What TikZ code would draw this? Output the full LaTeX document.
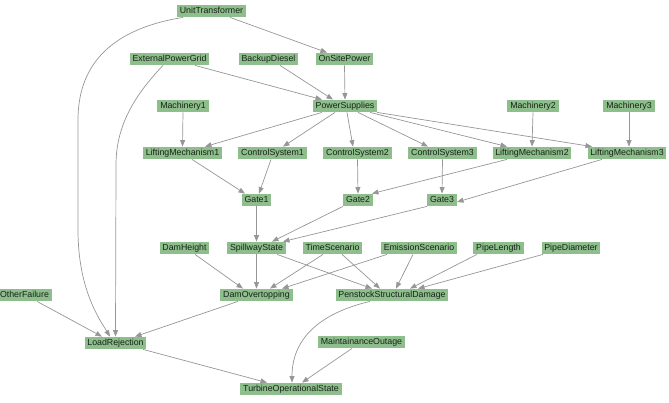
\documentclass[tikz,border=0pt]{standalone}
\usepackage{fontspec}
\setmainfont{Liberation Sans}
\usetikzlibrary{arrows.meta}
\definecolor{boxgreen}{RGB}{141,190,140}
\definecolor{edgegray}{RGB}{150,150,150}
\definecolor{txt}{RGB}{25,35,25}
\tikzset{
  box/.style={fill=boxgreen, text=txt, inner xsep=2.8pt, inner ysep=0pt,
    text height=6.4pt, text depth=1.8pt, minimum height=12.4pt,
    font=\fontsize{8.8}{10}\selectfont},
  edge/.style={draw=edgegray, line width=0.7pt,
    -{Triangle[length=6.5pt,width=5pt,fill=edgegray]}}
}
\begin{document}
\begin{tikzpicture}[x=1pt,y=-1pt]
\useasboundingbox (0,0) rectangle (669,403);
\node[box] (ut)  at (211.5,11) {UnitTransformer};
\node[box] (epg) at (169.5,59) {ExternalPowerGrid};
\node[box] (bd)  at (268.5,59) {BackupDiesel};
\node[box] (osp) at (344.5,59) {OnSitePower};
\node[box] (m1)  at (183,106) {Machinery1};
\node[box] (ps)  at (345,106) {PowerSupplies};
\node[box] (m2)  at (533,106) {Machinery2};
\node[box] (m3)  at (629,106) {Machinery3};
\node[box] (lm1) at (182.5,153) {LiftingMechanism1};
\node[box] (cs1) at (272.5,153) {ControlSystem1};
\node[box] (cs2) at (357.5,153) {ControlSystem2};
\node[box] (cs3) at (442.5,153) {ControlSystem3};
\node[box] (lm2) at (532,153) {LiftingMechanism2};
\node[box] (lm3) at (627,153) {LiftingMechanism3};
\node[box] (g1)  at (256.5,200) {Gate1};
\node[box] (g2)  at (358,200) {Gate2};
\node[box] (g3)  at (442,200) {Gate3};
\node[box] (dh)  at (184.5,248) {DamHeight};
\node[box] (ss)  at (256.5,248) {SpillwayState};
\node[box] (ts)  at (332.5,248) {TimeScenario};
\node[box] (es)  at (419,248) {EmissionScenario};
\node[box] (pl)  at (498.5,248) {PipeLength};
\node[box] (pd)  at (571,248) {PipeDiameter};
\node[box] (of)  at (24.5,295) {OtherFailure};
\node[box] (do)  at (256.5,295) {DamOvertopping};
\node[box] (psd) at (392,295) {PenstockStructuralDamage};
\node[box] (lr)  at (115.5,343) {LoadRejection};
\node[box] (mo)  at (361.5,342) {MaintainanceOutage};
\node[box] (tos) at (291,389) {TurbineOperationalState};

% top
\draw[edge] ([xshift=18.5pt]ut.south) -- ([xshift=-17.5pt]osp.north);
\draw[edge] ([xshift=-28.5pt]ut.south) .. controls (105,30) and (78,70) .. (78,120) -- (78,230) .. controls (78,290) and (100,320) .. ([xshift=-5.5pt]lr.north);
\draw[edge] ([xshift=-6.5pt]epg.south) .. controls (135,95) and (116,125) .. (116,165) -- (lr.north);
\draw[edge] ([xshift=25.5pt]epg.south) -- ([xshift=-23pt]ps.north);
\draw[edge] ([xshift=11.5pt]bd.south) -- ([xshift=-12pt]ps.north);
\draw[edge] (osp.south) -- (ps.north);
% power supplies fan-out
\draw[edge] (m1.south) -- (lm1.north);
\draw[edge] ([xshift=-23pt]ps.south) -- ([xshift=22.5pt]lm1.north);
\draw[edge] ([xshift=-10pt]ps.south) -- ([xshift=10.5pt]cs1.north);
\draw[edge] ([xshift=2pt]ps.south) -- ([xshift=-4.5pt]cs2.north);
\draw[edge] ([xshift=13pt]ps.south) -- ([xshift=-14.5pt]cs3.north);
\draw[edge] ([xshift=25pt]ps.south) -- ([xshift=-25pt]lm2.north);
\draw[edge] ([xshift=32pt]ps.south) -- ([xshift=-35pt]lm3.north);
\draw[edge] (m2.south) -- (lm2.north);
\draw[edge] (m3.south) -- ([xshift=2pt]lm3.north);
% gates
\draw[edge] ([xshift=9.5pt]lm1.south) -- ([xshift=-11.5pt]g1.north);
\draw[edge] ([xshift=-1.5pt]cs1.south) -- ([xshift=2.5pt]g1.north);
\draw[edge] (cs2.south) -- (g2.north);
\draw[edge] (cs3.south) -- (g3.north);
\draw[edge] ([xshift=-25pt]lm2.south) -- ([xshift=-1pt]g2.north east);
\draw[edge] ([xshift=-25pt]lm3.south) -- ([yshift=-2pt]g3.east);
% spillway
\draw[edge] (g1.south) -- (ss.north);
\draw[edge] ([xshift=-15pt]g2.south) -- ([xshift=15.5pt]ss.north);
\draw[edge] ([xshift=-15pt]g3.south) -- ([xshift=26.5pt]ss.north);
% overtopping / penstock
\draw[edge] ([xshift=10.5pt]dh.south) -- ([xshift=-13.5pt]do.north);
\draw[edge] (ss.south) -- (do.north);
\draw[edge] ([xshift=20.5pt]ss.south) -- ([xshift=-20pt]psd.north);
\draw[edge] ([xshift=-9.5pt]ts.south) -- ([xshift=13.5pt]do.north);
\draw[edge] ([xshift=9.5pt]ts.south) -- ([xshift=-12pt]psd.north);
\draw[edge] ([xshift=-32pt]es.south) -- ([xshift=25.5pt]do.north);
\draw[edge] ([xshift=-6pt]es.south) -- ([xshift=4pt]psd.north);
\draw[edge] ([xshift=-21.5pt]pl.south) -- ([xshift=18pt]psd.north);
\draw[edge] ([xshift=-28pt]pd.south) -- ([xshift=26pt]psd.north);
% bottom
\draw[edge] ([xshift=12.5pt]of.south) -- ([xshift=-13.5pt]lr.north);
\draw[edge] ([xshift=-18.5pt]do.south) -- ([xshift=19.5pt]lr.north);
\draw[edge] ([xshift=27.5pt]lr.south) -- ([xshift=-24pt]tos.north);
\draw[edge] ([xshift=-9.5pt]mo.south) -- ([xshift=11pt]tos.north);
\draw[edge] ([xshift=-22pt]psd.south) .. controls (325,312) and (292,335) .. ([xshift=1pt]tos.north);
\end{tikzpicture}
\end{document}
